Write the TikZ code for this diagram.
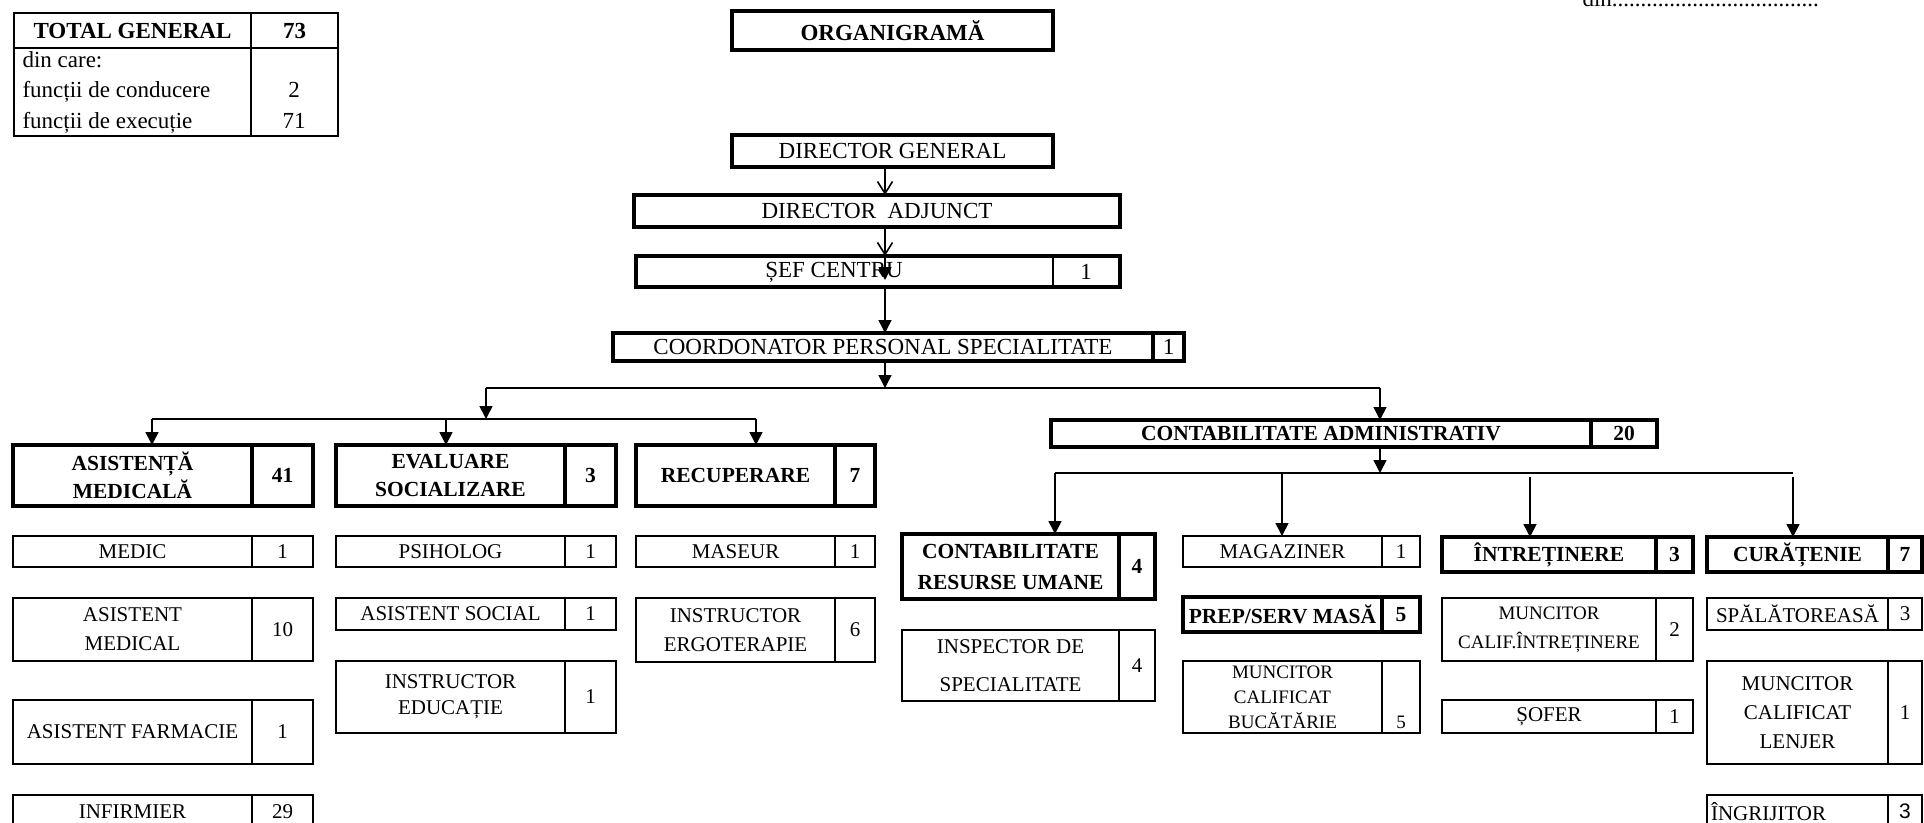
\documentclass[tikz,border=0pt]{standalone}
\usepackage{fontspec}
\setmainfont{Liberation Serif}
\setsansfont{Liberation Sans}
\usetikzlibrary{arrows.meta}

\begin{document}
\begin{tikzpicture}[x=1pt, y=-1pt,
    cell/.style={draw, line width=2pt, inner sep=0pt, outer sep=0pt, anchor=north west,
      align=center, font=\fontsize{21}{29}\selectfont},
    head/.style={cell, line width=4.5pt, font=\fontsize{21.5}{28}\selectfont\bfseries},
    topcell/.style={cell, line width=4.5pt, font=\fontsize{23}{28}\selectfont},
    tabcell/.style={cell, font=\fontsize{23}{28}\selectfont},
    small/.style={font=\fontsize{19}{#1}\selectfont},
    wire/.style={line width=1.6pt},
    arr/.style={wire, -{Triangle[width=13pt,length=13pt]}},
    oarr/.style={wire, -{Straight Barb[width=15pt,length=12pt,line width=1.6pt]}}]
  \useasboundingbox (0,0) rectangle (1924,822);

  % total table
  \node[tabcell, font=\fontsize{23}{28}\selectfont\bfseries, minimum width=237, minimum height=35] (total) at (14,13) {TOTAL GENERAL};
  \node[tabcell, font=\fontsize{23}{28}\selectfont\bfseries, minimum width=87, minimum height=35] (totalN) at (total.north east) {73};
  \node[tabcell, minimum width=237, minimum height=88] (split) at (total.south west) {};
  \node[tabcell, minimum width=87, minimum height=88] (splitN) at (split.north east) {};
  \node[anchor=base west, font=\fontsize{23}{28}\selectfont] (dincare) at (19,67) {din care:};
  \node[anchor=base west, font=\fontsize{23}{28}\selectfont] (conducere) at (19,97) {funcții de conducere};
  \node[anchor=base west, font=\fontsize{23}{28}\selectfont] (executie) at (19,128) {funcții de execuție};
  \node[anchor=base, font=\fontsize{23}{28}\selectfont] (conducereN) at (294,97) {2};
  \node[anchor=base, font=\fontsize{23}{28}\selectfont] (executieN) at (294,128) {71};

  \node[anchor=base west, font=\fontsize{23}{28}\selectfont] (din) at (1579,6) {din....................................};

  % top of the chart
  \coordinate (spine) at (885,0);
  \node[topcell, font=\fontsize{23}{28}\selectfont\bfseries, minimum width=321, minimum height=39] (org) at (732,11) {ORGANIGRAMĂ};
  \node[topcell, minimum width=321, minimum height=32] (dg) at (732,135) {DIRECTOR GENERAL};
  \node[topcell, minimum width=486, minimum height=32] (da) at (634,195) {DIRECTOR\ \ ADJUNCT};
  \node[topcell, minimum width=484, minimum height=31] (sef) at (636,256) {};
  \coordinate (sefdiv) at (1053,0);
  \draw[line width=2pt] (sefdiv |- sef.north) -- (sefdiv |- sef.south);
  \node[font=\fontsize{23}{28}\selectfont] (sefT) at (834,272) {ȘEF CENTRU};
  \node[font=\fontsize{23}{28}\selectfont] (sefN) at (1086,272) {1};
  \node[topcell, minimum width=540, minimum height=28] (coord) at (613,333) {COORDONATOR PERSONAL SPECIALITATE};
  \node[topcell, minimum width=31, minimum height=28] (coordN) at (coord.north east) {1};

  \draw[oarr] (spine |- dg.south) -- (spine |- da.north);
  \draw[oarr] (spine |- da.south) -- (spine |- sef.north);
  \draw[arr] (spine |- sef.north) -- ++(0,24);
  \draw[arr] (spine |- sef.south) -- (spine |- coord.north);

  % asistenta medicala
  \node[head, minimum width=239, minimum height=61] (asist) at (13,445) {ASISTENȚĂ\\MEDICALĂ};
  \node[head, minimum width=61, minimum height=61] (asistN) at (asist.north east) {41};
  \node[cell, minimum width=239, minimum height=31] (medic) at (13,536) {MEDIC};
  \node[cell, minimum width=61, minimum height=31] (medicN) at (medic.north east) {1};
  \node[cell, minimum width=239, minimum height=63] (asmed) at (13,598) {ASISTENT\\MEDICAL};
  \node[cell, minimum width=61, minimum height=63] (asmedN) at (asmed.north east) {10};
  \node[cell, minimum width=239, minimum height=64] (asfarm) at (13,700) {ASISTENT FARMACIE};
  \node[cell, minimum width=61, minimum height=64] (asfarmN) at (asfarm.north east) {1};
  \node[cell, minimum width=239, minimum height=33] (infirm) at (13,795) {INFIRMIER};
  \node[cell, minimum width=61, minimum height=33] (infirmN) at (infirm.north east) {29};

  % evaluare socializare
  \node[head, minimum width=229, minimum height=61] (eval) at (336,445) {EVALUARE\\SOCIALIZARE};
  \node[head, minimum width=51, minimum height=61] (evalN) at (eval.north east) {3};
  \node[cell, minimum width=229, minimum height=31] (psih) at (336,536) {PSIHOLOG};
  \node[cell, minimum width=51, minimum height=31] (psihN) at (psih.north east) {1};
  \node[cell, minimum width=229, minimum height=32] (assoc) at (336,598) {ASISTENT SOCIAL};
  \node[cell, minimum width=51, minimum height=32] (assocN) at (assoc.north east) {1};
  \node[cell, font=\fontsize{21}{26}\selectfont, minimum width=229, minimum height=72] (instred) at (336,661) {INSTRUCTOR\\EDUCAȚIE};
  \node[cell, minimum width=51, minimum height=72] (instredN) at (instred.north east) {1};

  % recuperare
  \node[head, minimum width=199, minimum height=61] (recup) at (636,445) {RECUPERARE};
  \node[head, minimum width=40, minimum height=61] (recupN) at (recup.north east) {7};
  \node[cell, minimum width=199, minimum height=31] (maseur) at (636,536) {MASEUR};
  \node[cell, minimum width=40, minimum height=31] (maseurN) at (maseur.north east) {1};
  \node[cell, minimum width=199, minimum height=64] (instrerg) at (636,598) {INSTRUCTOR\\ERGOTERAPIE};
  \node[cell, minimum width=40, minimum height=64] (instrergN) at (instrerg.north east) {6};

  % contabilitate administrativ
  \node[head, minimum width=540, minimum height=27] (ca) at (1051,420) {CONTABILITATE ADMINISTRATIV};
  \node[head, minimum width=66, minimum height=27] (caN) at (ca.north east) {20};

  % contabilitate resurse umane
  \node[head, font=\fontsize{21.5}{31}\selectfont\bfseries, minimum width=217, minimum height=65] (cru) at (902,534) {CONTABILITATE\\RESURSE UMANE};
  \node[head, minimum width=36, minimum height=65] (cruN) at (cru.north east) {4};
  \node[cell, font=\fontsize{21}{38}\selectfont, minimum width=217, minimum height=71] (insp) at (902,630) {INSPECTOR DE\\SPECIALITATE};
  \node[cell, minimum width=36, minimum height=71] (inspN) at (insp.north east) {4};

  % magaziner, prep/serv masa
  \node[cell, minimum width=199, minimum height=31] (magaz) at (1183,536) {MAGAZINER};
  \node[cell, minimum width=38, minimum height=31] (magazN) at (magaz.north east) {1};
  \node[head, minimum width=199, minimum height=35] (prep) at (1183,597) {PREP/SERV MASĂ};
  \node[head, minimum width=38, minimum height=35] (prepN) at (prep.north east) {5};
  \node[cell, small=25, minimum width=199, minimum height=72] (mcbuc) at (1183,661) {MUNCITOR\\CALIFICAT\\BUCĂTĂRIE};
  \node[cell, minimum width=38, minimum height=72] (mcbucN) at (mcbuc.north east) {};
  \node[anchor=base, small=25] (mcbucV) at ([yshift=5pt]mcbucN.south) {5};

  % intretinere
  \node[head, minimum width=214, minimum height=35] (intr) at (1442,537) {ÎNTREȚINERE};
  \node[head, minimum width=37, minimum height=35] (intrN) at (intr.north east) {3};
  \node[cell, small=29, minimum width=214, minimum height=63] (mcintr) at (1442,598) {MUNCITOR\\CALIF.ÎNTREȚINERE};
  \node[cell, minimum width=37, minimum height=63] (mcintrN) at (mcintr.north east) {2};
  \node[cell, minimum width=214, minimum height=33] (sofer) at (1442,700) {ȘOFER};
  \node[cell, minimum width=37, minimum height=33] (soferN) at (sofer.north east) {1};

  % curatenie
  \node[head, minimum width=181, minimum height=35] (cur) at (1707,537) {CURĂȚENIE};
  \node[head, minimum width=34, minimum height=35] (curN) at (cur.north east) {7};
  \node[cell, minimum width=181, minimum height=32] (spal) at (1707,598) {SPĂLĂTOREASĂ};
  \node[cell, minimum width=34, minimum height=32] (spalN) at (spal.north east) {3};
  \node[cell, minimum width=181, minimum height=103] (lenjer) at (1707,661) {MUNCITOR\\CALIFICAT\\LENJER};
  \node[cell, minimum width=34, minimum height=103] (lenjerN) at (lenjer.north east) {1};
  \node[cell, align=left, text width=173, minimum width=181, minimum height=33] (ingr) at (1707,795) {ÎNGRIJITOR};
  \node[cell, font=\fontsize{21}{29}\sffamily, minimum width=34, minimum height=33] (ingrN) at (ingr.north east) {3};

  % connectors
  \coordinate (bus1L) at (486,388);
  \coordinate (bus1R) at (1380,388);
  \coordinate (bus2L) at (152,419);
  \coordinate (bus2M) at (446,419);
  \coordinate (bus2R) at (756,419);
  \coordinate (bus3L) at (1055,473);
  \coordinate (bus3R) at (1793,473);
  \coordinate (bus3a) at (1282,473);
  \coordinate (bus3b) at (1530,477);
  \coordinate (bus3c) at (1793,477);

  \draw[arr] (spine |- coord.south) -- (spine |- bus1L);
  \draw[wire] (bus1L) -- (bus1R);
  \draw[arr] (bus1L) -- (bus1L |- bus2L);
  \draw[wire] (bus2L) -- (bus2R);
  \draw[arr] (bus2L) -- (bus2L |- asist.north);
  \draw[arr] (bus2M) -- (bus2M |- eval.north);
  \draw[arr] (bus2R) -- (bus2R |- recup.north);
  \draw[arr] (bus1R) -- (bus1R |- ca.north);
  \draw[arr] (bus1R |- ca.south) -- (bus1R |- bus3L);
  \draw[wire] (bus3L) -- (bus3R);
  \draw[arr] (bus3L) -- (bus3L |- cru.north);
  \draw[arr] (bus3a) -- (bus3a |- magaz.north);
  \draw[arr] (bus3b) -- (bus3b |- intr.north);
  \draw[arr] (bus3c) -- (bus3c |- cur.north);
\end{tikzpicture}
\end{document}
